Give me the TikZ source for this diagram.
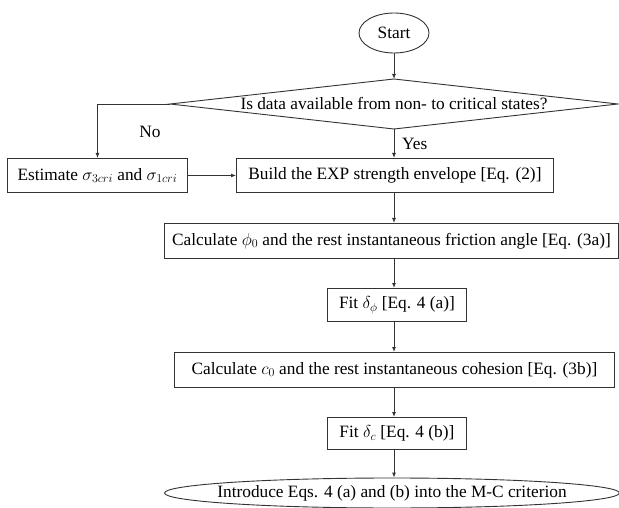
\documentclass[tikz,border=0pt]{standalone}
\usepackage{fontspec}
\setmainfont{Liberation Serif}
\usetikzlibrary{arrows.meta,shapes.geometric}
\begin{document}
\begin{tikzpicture}[x=1pt,y=-1pt,
  every node/.style={font=\fontsize{17.3}{20}\selectfont, text=black},
  line/.style={draw=black!80, line width=0.9pt},
  flowbox/.style={line, rectangle, inner sep=0pt, anchor=north west},
  terminal/.style={line, ellipse, inner sep=0pt},
  arrow/.style={line, -{Latex[length=5pt,width=4pt]}},
  lbl/.style={inner sep=0pt}
]
\useasboundingbox (0,0) rectangle (619,508);

% start terminal
\node[terminal, minimum width=70pt, minimum height=40pt] (start) at (394,33) {Start};

% decision diamond
\coordinate (dtop) at (394,79);
\coordinate (dleft) at (170,104);
\coordinate (dright) at (618,104);
\coordinate (dbottom) at (394,129);
\draw[line] (dtop) -- (dright) -- (dbottom) -- (dleft) -- cycle;
\node[lbl] (question) at (394,104) {Is data available from non- to critical states?};

% process boxes
\node[flowbox, minimum width=180pt, minimum height=34pt] (estimate) at (7,158) {};
\node[lbl] at (estimate.center) {Estimate $\sigma_{3cri}$ and $\sigma_{1cri}$};
\node[flowbox, minimum width=317pt, minimum height=34pt] (build) at (236,158) {};
\node[lbl] at (build.center) {Build the EXP strength envelope [Eq. (2)]};
\node[flowbox, minimum width=454pt, minimum height=35pt] (calcphi) at (164,223) {};
\node[lbl] at (calcphi.center) {Calculate $\phi_0$ and the rest instantaneous friction angle [Eq. (3a)]};
\node[flowbox, minimum width=139pt, minimum height=33pt] (fitphi) at (327,288) {};
\node[lbl] at (fitphi.center) {Fit $\delta_\phi$ [Eq. 4 (a)]};
\node[flowbox, minimum width=440pt, minimum height=35pt] (calcc) at (174,352) {};
\node[lbl] at (calcc.center) {Calculate $c_0$ and the rest instantaneous cohesion [Eq. (3b)]};
\node[flowbox, minimum width=139pt, minimum height=32pt] (fitc) at (327,417) {};
\node[lbl] at (fitc.center) {Fit $\delta_c$ [Eq. 4 (b)]};

% end terminal: a flat ellipse with its text laid over it
\node[terminal, minimum width=455pt, minimum height=30pt] (finish) at (392,493) {};
\node[lbl] at (finish.center) {Introduce Eqs. 4 (a) and (b) into the M-C criterion};

% connectors
\draw[arrow] (start) -- (dtop);
\draw[arrow] (dleft) -| (estimate.north);
\draw[arrow] (dbottom) -- (build.north -| dbottom);
\draw[arrow] (estimate.east) -- (build.west);
\draw[arrow] (build.south -| dbottom) -- (calcphi.north -| dbottom);
\draw[arrow] (calcphi.south -| dbottom) -- (fitphi.north -| dbottom);
\draw[arrow] (fitphi.south -| dbottom) -- (calcc.north -| dbottom);
\draw[arrow] (calcc.south -| dbottom) -- (fitc.north -| dbottom);
\draw[arrow] (fitc.south -| dbottom) -- (finish.north -| dbottom);

% branch labels
\node[lbl] (no) at (150,132) {No};
\node[lbl, anchor=west] (yes) at (402,144) {Yes};
\end{tikzpicture}
\end{document}
